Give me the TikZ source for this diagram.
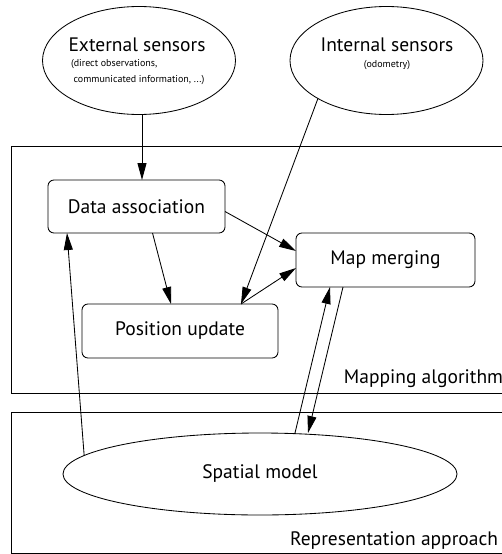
\documentclass[tikz,border=0pt]{standalone}
\usepackage{fontspec}
\setmainfont{PT Sans}
\usetikzlibrary{shapes.geometric,arrows.meta}
\begin{document}
\begin{tikzpicture}[x=1pt,y=-1pt,
  line width=0.85pt,
  every node/.style={inner sep=0pt,outer sep=0pt},
  sensor/.style={draw,ellipse,minimum width=193pt,minimum height=108pt},
  stage/.style={draw,rounded corners=6pt,font=\fontsize{19.5}{22}\selectfont},
  frame/.style={draw},
  caption/.style={font=\fontsize{19.5}{22}\selectfont},
  note/.style={font=\fontsize{10}{16}\selectfont,align=left},
  flow/.style={-{Triangle[length=17pt,width=9pt]}}
]
\useasboundingbox (0,0) rectangle (502,554);

% outer frames
\node[frame,minimum width=492pt,minimum height=247pt] (mapframe) at (257,269.5) {};
\node[frame,minimum width=492pt,minimum height=141pt] (repframe) at (257,482.5) {};
\node[caption,anchor=base east] (maplabel) at (503,383) {Mapping algorithm};
\node[caption,anchor=base east] (replabel) at (498,545) {Representation approach};

% sensors
\node[sensor] (ext) at (139,60.5) {};
\node[caption] (exttitle) at (137,45) {External sensors};
\node[note,anchor=north west] (extnote) at (71,59) {(direct observations,\\ \ communicated information, ...)};
\node[sensor] (int) at (386.5,60.5) {};
\node[caption] (inttitle) at (387,45) {Internal sensors};
\node[note] (intnote) at (387,65) {(odometry)};

% processing stages
\node[stage,minimum width=177pt,minimum height=53pt] (da) at (136.5,206.5) {Data association};
\node[stage,minimum width=179pt,minimum height=54pt] (mm) at (385.5,260) {Map merging};
\node[stage,minimum width=196pt,minimum height=54pt] (pu) at (180,331) {Position update};

% spatial model
\node[draw,ellipse,minimum width=394pt,minimum height=82pt,caption] (sm) at (260,474) {Spatial model};

% connectors
\draw[flow] (ext.south -| 142,0) -- (142,180);
\draw[flow] (int.209) -- ([xshift=61pt]pu.north);
\draw[flow] ([yshift=-5pt]da.east) -- ([yshift=9pt]mm.west);
\draw[flow] ([xshift=16pt]da.south) -- ([xshift=-9pt]pu.north);
\draw[flow] ([xshift=61pt]pu.north) -- ([yshift=-8pt]mm.west);
\draw[flow] (sm.174) -- ([xshift=-69.5pt]da.south);
\draw[flow] ([xshift=35pt]sm.north) -- ([xshift=-55.5pt]mm.south);
\draw[flow] ([xshift=-42.5pt]mm.south) -- ([xshift=48pt]sm.north);
\end{tikzpicture}
\end{document}
